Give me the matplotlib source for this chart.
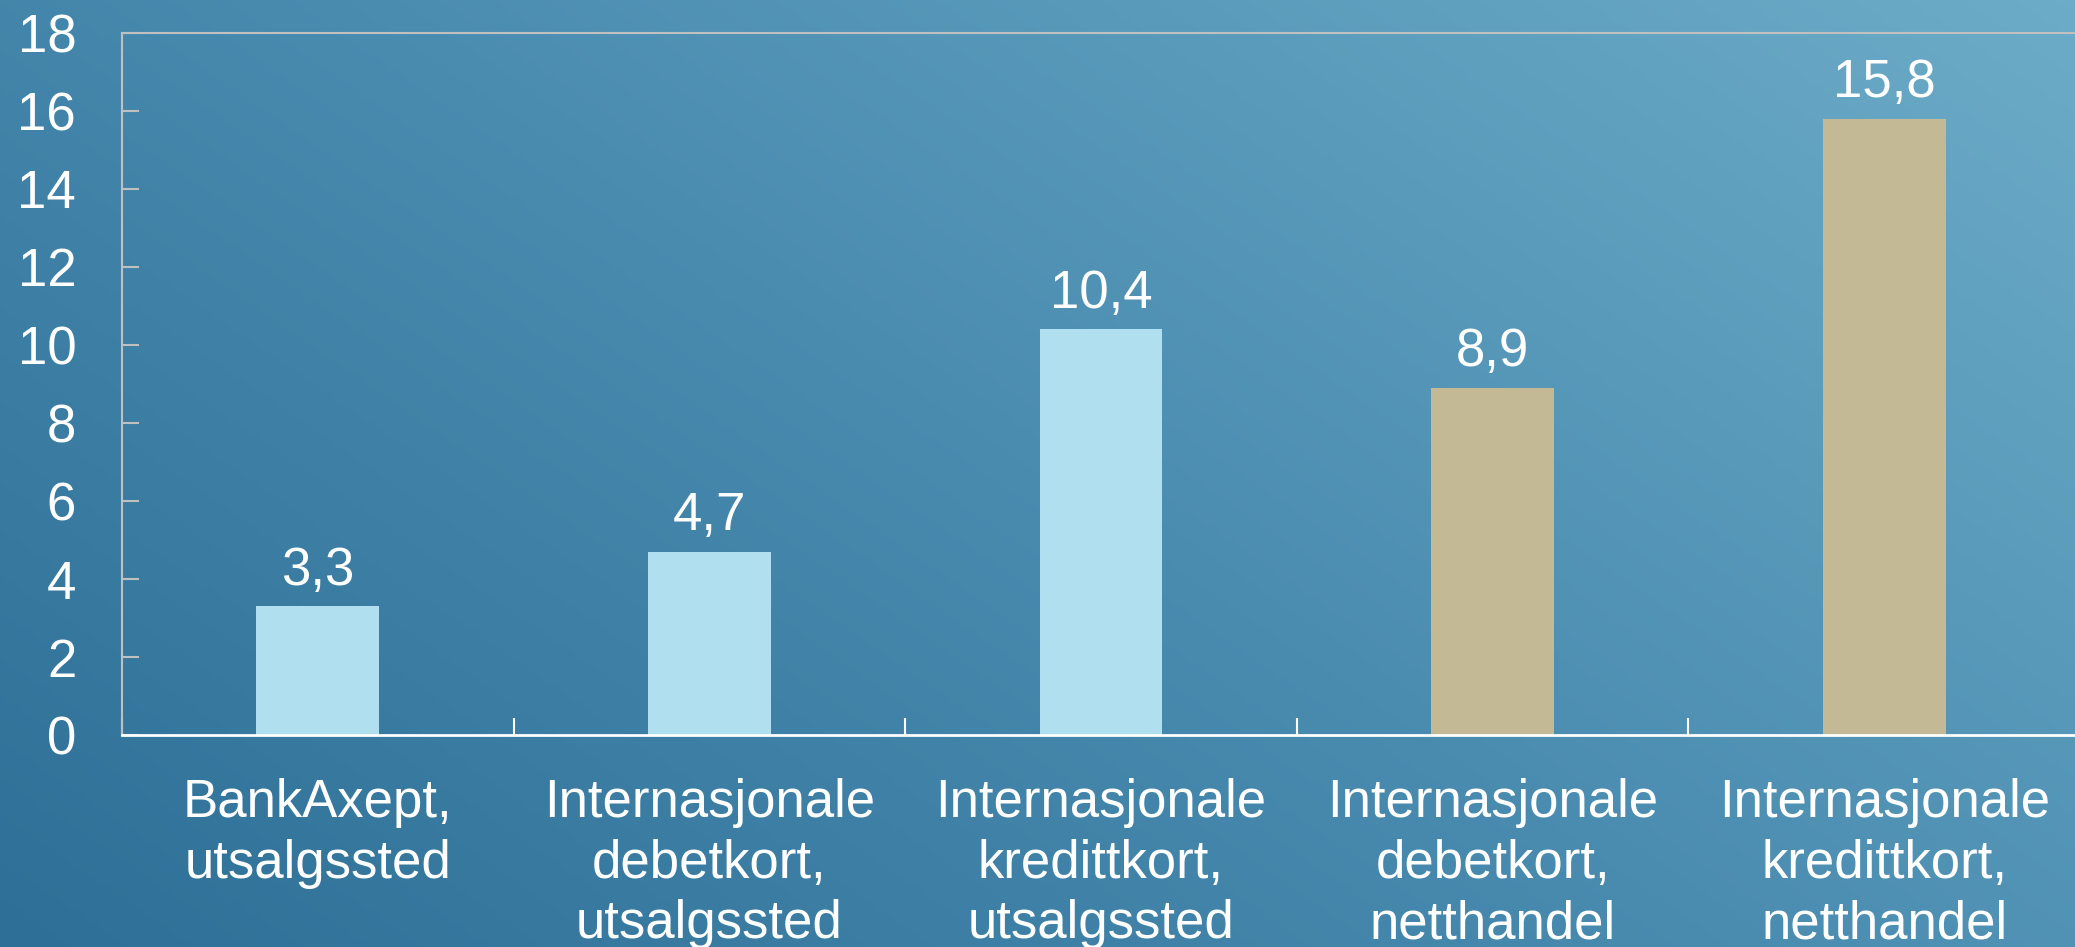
import numpy as np
import matplotlib.pyplot as plt
from matplotlib.colors import LinearSegmentedColormap

kategorier = [
    "BankAxept,\nutsalgssted",
    "Internasjonale\ndebetkort,\nutsalgssted",
    "Internasjonale\nkredittkort,\nutsalgssted",
    "Internasjonale\ndebetkort,\nnetthandel",
    "Internasjonale\nkredittkort,\nnetthandel",
]
verdier = [3.3, 4.7, 10.4, 8.9, 15.8]
farger = ["#b0dff0", "#b0dff0", "#b0dff0", "#c3b995", "#c3b995"]
y_ticks = [0, 2, 4, 6, 8, 10, 12, 14, 16, 18]

plt.rcParams["font.family"] = ["Liberation Sans", "DejaVu Sans"]
FS = 38

fig = plt.figure(figsize=(20.75, 9.47), dpi=100)

# bakgrunn med diagonal gradient
bg = fig.add_axes([0, 0, 1, 1], zorder=0)
nx, ny = 400, 200
xx, yy = np.meshgrid(np.linspace(0, 1, nx), np.linspace(0, 1, ny))
grad = (xx * 0.6 + yy * 0.4)
cmap = LinearSegmentedColormap.from_list("bg", ["#2d6f96", "#4a8cb0", "#6cacc8"])
bg.imshow(grad, cmap=cmap, origin="lower", aspect="auto", extent=[0, 1, 0, 1])
bg.set_axis_off()

ax = fig.add_axes([122 / 2075, 1 - 735 / 947, 1958 / 2075, 702 / 947], zorder=1)
ax.patch.set_alpha(0)

x = np.arange(len(verdier))
ax.bar(x, verdier, width=0.314, color=farger)

for xi, v in zip(x, verdier):
    ax.text(xi, v + 0.27, f"{v:.1f}".replace(".", ","), ha="center", va="bottom",
            fontsize=FS, color="white")

ax.set_xlim(-0.5, 4.5)
ax.set_ylim(0, 18)
ax.set_yticks(y_ticks)
ax.set_yticklabels([str(t) for t in y_ticks], fontsize=FS, color="white")
ax.tick_params(axis="y", direction="in", length=12, width=1.5, color="#c0c0c0", pad=33)

ax.set_xticks(x)
ax.set_xticklabels(kategorier, fontsize=FS, color="white", linespacing=1.27)
ax.tick_params(axis="x", length=0, pad=31)
ax.set_xticks(np.arange(-0.5, 4.5, 1.0), minor=True)
ax.tick_params(axis="x", which="minor", direction="in", length=12, width=1.5, color="white")

for side in ["left", "top"]:
    ax.spines[side].set_color("#c0c0c0")
    ax.spines[side].set_linewidth(1.5)
ax.spines["bottom"].set_color("white")
ax.spines["bottom"].set_linewidth(2)
ax.spines["right"].set_visible(False)

fig.savefig("out.png", dpi=100)
